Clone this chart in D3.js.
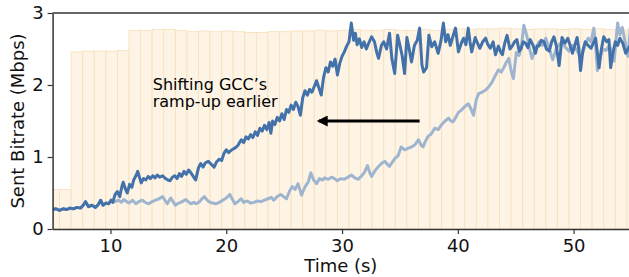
<!DOCTYPE html>
<html>
<head>
<meta charset="utf-8">
<script src="https://cdn.jsdelivr.net/npm/d3@7"></script>
<style>
  body { margin: 0; background: #fff; }
  text { font-family: "DejaVu Sans", sans-serif; }
</style>
</head>
<body>
<script>
// canvas size
const width = 629;
const height = 277;

// target bitrate per 1 s frame window (start time, Mbps)
const frameStarts = [4.6, 5.6, 6.6, 7.6, 8.6, 9.6, 10.6, 11.6, 12.6, 13.6, 14.6, 15.6, 16.6, 17.6, 18.6, 19.6,
  20.6, 21.6, 22.6, 23.6, 24.6, 25.6, 26.6, 27.6, 28.6, 29.6, 30.6, 31.6, 32.6, 33.6, 34.6, 35.6, 36.6,
  37.6, 38.6, 39.6, 40.6, 41.6, 42.6, 43.6, 44.6, 45.6, 46.6, 47.6, 48.6, 49.6, 50.6, 51.6, 52.6, 53.6, 54.6];
const frameRates = [0.55, 0.55, 2.46, 2.47, 2.47, 2.47, 2.48, 2.76, 2.76, 2.77, 2.77, 2.76, 2.74, 2.75, 2.74, 2.75,
  2.74, 2.73, 2.73, 2.74, 2.74, 2.75, 2.75, 2.76, 2.75, 2.76, 2.77, 2.76, 2.76, 2.77, 2.76, 2.76, 2.77,
  2.76, 2.77, 2.78, 2.77, 2.78, 2.78, 2.79, 2.78, 2.77, 2.78, 2.78, 2.77, 2.78, 2.77, 2.78, 2.77, 2.76, 2.77];

// sent bitrate with the shifted ramp-up (time s, Mbps)
const shiftedGcc = [
  [5.0,0.27],[5.3,0.28],[5.6,0.26],[5.9,0.28],[6.2,0.27],[6.5,0.29],[6.8,0.28],[7.1,0.30],[7.4,0.29],[7.6,0.32],
  [7.85,0.38],[8.1,0.31],[8.4,0.33],[8.7,0.30],[8.95,0.34],[9.15,0.40],[9.35,0.33],[9.6,0.36],[9.85,0.35],[10.05,0.40],
  [10.2,0.37],[10.4,0.48],[10.6,0.52],[10.8,0.45],[11.0,0.60],[11.1,0.65],[11.3,0.55],[11.45,0.50],[11.65,0.62],[11.85,0.58],
  [12.0,0.68],[12.2,0.74],[12.35,0.80],[12.5,0.72],[12.65,0.64],[12.85,0.70],[13.05,0.68],[13.25,0.73],[13.45,0.70],[13.65,0.74],
  [13.85,0.71],[14.05,0.75],[14.25,0.72],[14.5,0.74],[14.75,0.70],[14.95,0.68],[15.15,0.67],[15.35,0.72],[15.55,0.74],[15.75,0.70],
  [15.95,0.77],[16.15,0.73],[16.35,0.80],[16.55,0.76],[16.75,0.82],[16.95,0.78],[17.15,0.73],[17.35,0.68],[17.6,0.85],[17.8,0.91],
  [18.0,0.86],[18.2,0.92],[18.45,0.94],[18.7,0.90],[18.95,0.86],[19.15,0.93],[19.4,0.97],[19.6,0.95],[19.8,1.05],[20.0,1.10],
  [20.2,1.06],[20.4,1.09],[20.6,1.11],[20.8,1.13],[21.0,1.16],[21.15,1.20],[21.3,1.24],[21.5,1.20],[21.7,1.28],[21.9,1.25],
  [22.1,1.31],[22.3,1.27],[22.5,1.35],[22.7,1.30],[22.9,1.40],[23.1,1.36],[23.3,1.44],[23.5,1.38],[23.7,1.48],[23.85,1.33],
  [24.0,1.50],[24.2,1.45],[24.4,1.55],[24.6,1.50],[24.8,1.60],[25.0,1.52],[25.2,1.66],[25.4,1.62],[25.6,1.72],[25.8,1.66],
  [26.0,1.76],[26.2,1.70],[26.4,1.58],[26.6,1.82],[26.8,1.92],[27.0,1.86],[27.2,1.94],[27.4,1.90],[27.6,1.98],[27.8,2.06],
  [28.0,1.96],[28.2,1.86],[28.4,2.10],[28.6,2.24],[28.8,2.18],[29.0,2.32],[29.2,2.26],[29.4,2.36],[29.6,2.14],[29.8,2.30],
  [30.0,2.40],[30.2,2.46],[30.4,2.54],[30.6,2.60],[30.8,2.86],[31.0,2.62],[31.15,2.72],[31.3,2.56],[31.5,2.64],[31.7,2.52],
  [31.9,2.60],[32.1,2.50],[32.3,2.58],[32.55,2.67],[32.8,2.60],[33.0,2.45],[33.15,2.37],[33.4,2.55],[33.6,2.60],[33.85,2.50],
  [34.1,2.72],[34.3,2.37],[34.55,2.16],[34.8,2.69],[35.0,2.55],[35.2,2.40],[35.4,2.16],[35.6,2.66],[35.8,2.50],[36.0,2.32],
  [36.25,2.55],[36.5,2.62],[36.7,2.79],[36.9,2.28],[37.05,2.18],[37.3,2.24],[37.5,2.69],[37.75,2.53],[38.0,2.60],[38.3,2.44],
  [38.55,2.62],[38.75,2.86],[38.95,2.60],[39.15,2.70],[39.35,2.55],[39.55,2.66],[39.8,2.79],[40.05,2.46],[40.3,2.58],[40.5,2.65],
  [40.7,2.56],[40.9,2.79],[41.05,2.60],[41.2,2.46],[41.5,2.66],[41.7,2.58],[41.9,2.51],[42.15,2.60],[42.4,2.65],[42.6,2.56],
  [42.8,2.51],[43.05,2.60],[43.25,2.42],[43.5,2.54],[43.7,2.46],[43.85,2.42],[44.05,2.58],[44.25,2.69],[44.5,2.50],[44.7,2.54],
  [44.9,2.60],[45.1,2.63],[45.3,2.47],[45.45,2.50],[45.65,2.60],[45.85,2.58],[46.05,2.52],[46.25,2.63],[46.5,2.55],[46.7,2.44],
  [46.85,2.54],[47.0,2.54],[47.2,2.62],[47.45,2.60],[47.65,2.50],[47.9,2.47],[48.1,2.60],[48.3,2.67],[48.5,2.55],[48.75,2.27],
  [49.0,2.66],[49.25,2.58],[49.5,2.65],[49.7,2.55],[49.9,2.44],[50.1,2.55],[50.3,2.66],[50.45,2.50],[50.6,2.20],[50.8,2.48],
  [51.0,2.60],[51.25,2.55],[51.5,2.51],[51.7,2.58],[51.9,2.65],[52.05,2.45],[52.2,2.24],[52.4,2.50],[52.6,2.67],[52.85,2.60],
  [53.05,2.63],[53.2,2.24],[53.4,2.45],[53.6,2.60],[53.8,2.55],[54.0,2.65],[54.25,2.58],[54.5,2.44],[54.7,2.50],[54.9,2.55],[55.0,2.52]
];

// sent bitrate with the default ramp-up (time s, Mbps)
const defaultGcc = [
  [5.0,0.27],[5.3,0.28],[5.6,0.26],[5.9,0.28],[6.2,0.27],[6.5,0.29],[6.8,0.28],[7.1,0.30],[7.4,0.29],[7.6,0.32],
  [7.85,0.38],[8.1,0.31],[8.4,0.33],[8.7,0.30],[8.95,0.34],[9.15,0.40],[9.35,0.33],[9.6,0.36],[9.85,0.35],[10.05,0.40],
  [10.2,0.37],[10.4,0.38],[10.7,0.40],[10.95,0.37],[11.15,0.41],[11.4,0.38],[11.6,0.36],[11.9,0.40],[12.2,0.35],[12.45,0.38],
  [12.75,0.40],[13.0,0.37],[13.3,0.35],[13.6,0.38],[13.9,0.40],[14.2,0.42],[14.5,0.45],[14.7,0.40],[14.9,0.35],[15.2,0.43],
  [15.4,0.38],[15.6,0.33],[15.9,0.36],[16.2,0.38],[16.5,0.41],[16.7,0.38],[16.95,0.35],[17.2,0.37],[17.4,0.35],[17.7,0.38],
  [17.9,0.42],[18.1,0.45],[18.3,0.41],[18.5,0.38],[18.8,0.36],[19.1,0.35],[19.4,0.37],[19.7,0.40],[20.0,0.43],[20.3,0.48],
  [20.5,0.42],[20.75,0.35],[21.0,0.38],[21.3,0.42],[21.5,0.37],[21.8,0.39],[22.1,0.36],[22.4,0.37],[22.7,0.39],[23.0,0.38],
  [23.3,0.40],[23.6,0.42],[23.9,0.44],[24.1,0.40],[24.4,0.45],[24.7,0.48],[24.95,0.45],[25.2,0.42],[25.45,0.52],[25.7,0.59],
  [25.95,0.55],[26.2,0.63],[26.5,0.47],[26.7,0.55],[26.9,0.61],[27.1,0.66],[27.3,0.78],[27.55,0.68],[27.8,0.63],[28.05,0.70],
  [28.3,0.68],[28.5,0.71],[28.8,0.69],[29.1,0.72],[29.35,0.70],[29.6,0.67],[29.9,0.70],[30.2,0.69],[30.5,0.72],[30.8,0.75],
  [31.1,0.71],[31.4,0.69],[31.7,0.74],[31.95,0.79],[32.2,0.88],[32.4,0.78],[32.55,0.73],[32.8,0.80],[33.1,0.86],[33.4,0.91],
  [33.7,0.94],[33.9,0.90],[34.1,0.87],[34.35,0.93],[34.57,0.98],[34.85,1.02],[35.1,1.14],[35.4,1.10],[35.7,1.12],[36.0,1.14],
  [36.3,1.17],[36.6,1.24],[36.85,1.16],[37.0,1.14],[37.2,1.22],[37.45,1.29],[37.7,1.32],[38.0,1.40],[38.3,1.38],[38.6,1.45],
  [38.9,1.50],[39.2,1.54],[39.4,1.50],[39.6,1.49],[39.85,1.56],[40.05,1.62],[40.3,1.65],[40.6,1.70],[40.9,1.74],[41.1,1.68],
  [41.35,1.58],[41.6,1.80],[41.8,1.88],[42.1,1.90],[42.4,1.93],[42.7,1.98],[42.96,2.04],[43.2,2.12],[43.5,2.21],[43.75,2.18],
  [44.0,2.25],[44.2,2.32],[44.4,2.37],[44.6,2.20],[44.8,2.09],[45.05,2.45],[45.3,2.41],[45.5,2.55],[45.7,2.83],[45.95,2.69],
  [46.2,2.50],[46.4,2.37],[46.7,2.50],[47.0,2.60],[47.3,2.55],[47.6,2.65],[47.9,2.50],[48.2,2.35],[48.5,2.50],[48.75,2.56],
  [49.0,2.60],[49.3,2.52],[49.6,2.47],[49.9,2.55],[50.2,2.50],[50.4,2.45],[50.6,2.37],[50.8,2.45],[51.0,2.55],[51.25,2.65],
  [51.5,2.60],[51.75,2.79],[51.9,2.55],[52.05,2.20],[52.3,2.40],[52.5,2.50],[52.8,2.48],[53.1,2.55],[53.3,2.45],[53.5,2.33],
  [53.65,2.60],[53.8,2.86],[54.0,2.70],[54.2,2.80],[54.45,2.60],[54.7,2.40],[54.9,2.79],[55.0,2.70]
];

const xTicks = [10, 20, 30, 40, 50];
const yTicks = [0, 1, 2, 3];
const noteLines = ['Shifting GCC\u2019s', 'ramp-up earlier'];

// plot area
const plot = {left: 52.6, right: 631.5, top: 13, bottom: 229};

const x = d3.scaleLinear().domain([5, 55]).range([plot.left, plot.right]);
const y = d3.scaleLinear().domain([0, 3]).range([plot.bottom, plot.top]);

const svg = d3.select('body')
    .append('svg')
    .attr('width', width)
    .attr('height', height);

svg.append('defs')
    .append('clipPath')
    .attr('id', 'clip')
    .append('rect')
    .attr('x', plot.left)
    .attr('y', plot.top)
    .attr('width', plot.right - plot.left)
    .attr('height', plot.bottom - plot.top);

const area = svg.append('g').attr('clip-path', 'url(#clip)');

// frame-window bars
area.selectAll('.bar')
    .data(frameStarts)
    .enter()
    .append('rect')
    .attr('class', 'bar')
    .attr('x', d => x(d))
    .attr('y', (d, i) => y(frameRates[i]))
    .attr('width', d => x(d + 1) - x(d))
    .attr('height', (d, i) => y(0) - y(frameRates[i]))
    .attr('fill', '#fdf4e6')
    .attr('stroke', '#f8e1be')
    .attr('stroke-width', 0.9);

const line = d3.line()
    .x(d => x(d[0]))
    .y(d => y(d[1]));

area.append('path')
    .datum(defaultGcc)
    .attr('d', line)
    .attr('fill', 'none')
    .attr('stroke', '#9fb5cf')
    .attr('stroke-width', 3)
    .attr('stroke-linejoin', 'round');

area.append('path')
    .datum(shiftedGcc)
    .attr('d', line)
    .attr('fill', 'none')
    .attr('stroke', '#4272a9')
    .attr('stroke-width', 3)
    .attr('stroke-linejoin', 'round');

// annotation
svg.append('text')
    .attr('x', x(13.65))
    .attr('y', y(1.93))
    .attr('font-family', '"Liberation Sans", Arial, sans-serif')
    .attr('font-size', 16)
    .attr('fill', '#000')
    .selectAll('tspan')
    .data(noteLines)
    .enter()
    .append('tspan')
    .attr('x', x(13.65))
    .attr('dy', (d, i) => i === 0 ? 0 : 16.5)
    .text(d => d);

svg.append('defs')
    .append('marker')
    .attr('id', 'head')
    .attr('viewBox', '0 0 10 10')
    .attr('refX', 8)
    .attr('refY', 5)
    .attr('markerUnits', 'userSpaceOnUse')
    .attr('markerWidth', 15)
    .attr('markerHeight', 11)
    .attr('orient', 'auto')
    .append('path')
    .attr('d', 'M0,0L10,5L0,10Z')
    .attr('fill', '#000');

svg.append('line')
    .attr('x1', x(36.7))
    .attr('x2', x(28.0))
    .attr('y1', y(1.5))
    .attr('y2', y(1.5))
    .attr('stroke', '#000')
    .attr('stroke-width', 3)
    .attr('marker-end', 'url(#head)');

// axes
const xAxis = d3.axisBottom(x).tickValues(xTicks).tickSize(5).tickSizeOuter(0).tickPadding(5)
    .tickFormat(d3.format('d'));
const yAxis = d3.axisLeft(y).tickValues(yTicks).tickSize(5).tickSizeOuter(0).tickPadding(4)
    .tickFormat(d3.format('d'));

const gx = svg.append('g')
    .attr('transform', 'translate(0,' + plot.bottom + ')')
    .call(xAxis);
const gy = svg.append('g')
    .attr('transform', 'translate(' + plot.left + ',0)')
    .call(yAxis);

[gx, gy].forEach(g => {
  g.selectAll('text').attr('font-size', 18).attr('font-family', '"DejaVu Sans", sans-serif').attr('fill', '#111');
  g.selectAll('line').attr('stroke', '#333').attr('stroke-width', 1.2);
  g.select('.domain').attr('stroke', '#333').attr('stroke-width', 1.5);
});

// top spine
svg.append('line')
    .attr('x1', plot.left)
    .attr('x2', plot.right)
    .attr('y1', plot.top)
    .attr('y2', plot.top)
    .attr('stroke', '#333')
    .attr('stroke-width', 1.5);

svg.append('text')
    .attr('x', (plot.left + 629) / 2)
    .attr('y', 272)
    .attr('text-anchor', 'middle')
    .attr('font-size', 18)
    .attr('fill', '#111')
    .text('Time (s)');

svg.append('text')
    .attr('transform', 'translate(24,' + ((plot.top + plot.bottom) / 2) + ') rotate(-90)')
    .attr('text-anchor', 'middle')
    .attr('font-size', 18)
    .attr('fill', '#111')
    .text('Sent Bitrate (Mbps)');
</script>
</body>
</html>
